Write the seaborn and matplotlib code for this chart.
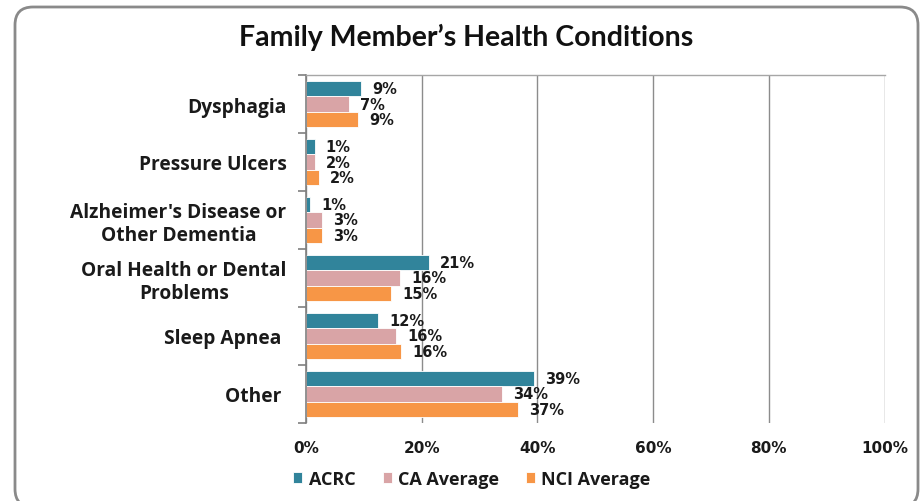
import matplotlib
matplotlib.use("Agg")
import matplotlib.pyplot as plt
import seaborn as sns
import pandas as pd
from matplotlib.patches import FancyBboxPatch
from matplotlib.ticker import FixedLocator, FuncFormatter

categories = ["Dysphagia", "Pressure Ulcers", "Alzheimer's Disease or\nOther Dementia",
              "Oral Health or Dental\nProblems", "Sleep Apnea ", "Other "]
series = ["ACRC", "CA Average", "NCI Average"]
acrc = [9.5, 1.5, 0.75, 21.2, 12.5, 39.4]
ca_avg = [7.5, 1.6, 2.7, 16.2, 15.6, 33.9]
nci_avg = [9.0, 2.2, 2.7, 14.7, 16.4, 36.6]
acrc_labels = ["9%", "1%", "1%", "21%", "12%", "39%"]
ca_labels = ["7%", "2%", "3%", "16%", "16%", "34%"]
nci_labels = ["9%", "2%", "3%", "15%", "16%", "37%"]
colors = ["#31849B", "#D9A4A6", "#F79646"]
x_ticks = [0, 20, 40, 60, 80, 100]

rows = []
for s, vals in zip(series, [acrc, ca_avg, nci_avg]):
    for c, v in zip(categories, vals):
        rows.append({"Condition": c, "Series": s, "Value": v})
df = pd.DataFrame(rows)

sns.set_theme(style="white")
plt.rcParams['font.family'] = ['Open Sans', 'DejaVu Sans']
WIDE = ['DejaVu Sans']

fig = plt.figure(figsize=(9.21, 5.02), dpi=100)
ax = fig.add_axes([306/921, 78/502, 578.5/921, 348/502])

sns.barplot(data=df, y="Condition", x="Value", hue="Series", order=categories,
            hue_order=series, palette=colors, orient="h", width=0.8, gap=0,
            saturation=1, edgecolor="white", linewidth=0.6, ax=ax)

for cont, labs in zip(ax.containers, [acrc_labels, ca_labels, nci_labels]):
    ax.bar_label(cont, labels=labs, padding=8, fontsize=10.5, fontweight="bold",
                 color="#1a1a1a", family=WIDE)

ax.set_xlim(0, 100)
ax.set_ylim(len(categories) - 0.5, -0.5)
ax.xaxis.set_major_locator(FixedLocator(x_ticks))
ax.xaxis.set_major_formatter(FuncFormatter(lambda v, p: f"{v:.0f}%"))
ax.grid(axis="x", color="#8c8c8c", linewidth=1)
ax.set_axisbelow(True)
for side in ["right", "bottom"]:
    ax.spines[side].set_visible(False)
ax.spines["top"].set_color("#a6a6a6")
ax.spines["top"].set_linewidth(1)
ax.spines["left"].set_color("#7f7f7f")
ax.spines["left"].set_linewidth(1.2)
ax.set_xlabel("")
ax.set_ylabel("")

ax.set_yticks(range(len(categories)))
ax.set_yticklabels(categories, fontsize=13.8, fontweight="bold", color="#1a1a1a",
                   multialignment="center")
ax.tick_params(axis="y", length=0, pad=14)
ax.set_yticks([i - 0.5 for i in range(len(categories) + 1)], minor=True)
ax.tick_params(axis="y", which="minor", length=6, width=1.2, color="#7f7f7f", left=True)
ax.tick_params(axis="x", length=0, pad=12, labelsize=11, labelcolor="#1a1a1a")
for t in ax.get_xticklabels():
    t.set_fontweight("bold")
    t.set_family(WIDE)

leg = ax.legend(loc="center", bbox_to_anchor=(472/921, 22/502),
                bbox_transform=fig.transFigure, ncol=3, frameon=False,
                prop={"weight": "bold", "size": 13}, handlelength=0.5,
                handleheight=0.5, handletextpad=0.35, columnspacing=1.5)
for t in leg.get_texts():
    t.set_color("#1a1a1a")

fig.text(466/921, 1 - 37/502, "Family Member\u2019s Health Conditions", ha="center",
         va="center", fontsize=20.5, fontweight="bold", color="#111111",
         family=['Lato', 'DejaVu Sans'])

border = FancyBboxPatch((0.15, -0.06), 9.03, 5.00,
                        boxstyle="round,pad=0,rounding_size=0.18",
                        transform=fig.dpi_scale_trans, fill=False,
                        edgecolor="#8a8a8a", linewidth=2)
fig.patches.append(border)

fig.savefig("out.png", dpi=100)
